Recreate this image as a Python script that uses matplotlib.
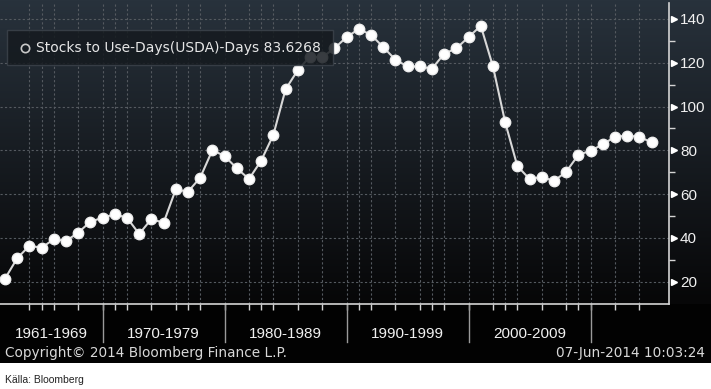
import numpy as np
import matplotlib
matplotlib.use("Agg")
import matplotlib.pyplot as plt
from matplotlib.transforms import blended_transform_factory
from matplotlib.patches import Rectangle
from matplotlib.lines import Line2D

# annual stocks-to-use (days), USDA
years = np.arange(1961, 2015)
stocks_days = [21.4, 30.7, 36.4, 35.5, 39.4, 38.6, 42.4, 47.4, 49.2, 50.8,
               49.2, 41.8, 48.6, 46.9, 62.2, 61.1, 67.5, 80.1, 77.4, 71.8,
               66.9, 75.3, 87.1, 107.9, 116.6, 122.8, 122.5, 126.6, 131.7, 135.4,
               132.8, 127.2, 121.4, 118.3, 118.3, 117.3, 124.1, 126.6, 131.7, 136.9,
               118.3, 92.8, 72.8, 66.9, 67.9, 66.0, 70.2, 77.9, 79.8, 82.7,
               86.2, 86.7, 86.2, 83.6268]
last_value = "83.6268"

decade_labels = ["1961-1969", "1970-1979", "1980-1989", "1990-1999", "2000-2009"]
decade_bounds = [1970, 1980, 1990, 2000, 2010]
tick_years = [1964, 1965, 1966, 1968, 1970, 1971, 1972, 1974, 1976, 1977, 1978,
              1980, 1982, 1983, 1984, 1986, 1988, 1990, 1991, 1992, 1994, 1996,
              1997, 1998, 2000, 2002, 2003, 2004, 2006, 2008, 2009, 2010, 2012, 2014]

AXFONT = ["Liberation Sans", "DejaVu Sans"]

W, H = 711, 389
fig = plt.figure(figsize=(W / 100, H / 100), dpi=100, facecolor="white")

# dark gradient background
bg = fig.add_axes([0, 1 - 363 / H, 1, 363 / H])
bg.set_axis_off()
rows = 363
top = np.array([40, 50, 60]) / 255
mid = np.array([7, 7, 8]) / 255
t = np.clip(np.arange(rows) / 300, 0, 1)[:, None]
grad = top * (1 - t) + mid * t
grad[304:] = np.array([2, 2, 2]) / 255
bg.imshow(grad[:, None, :], aspect="auto", extent=[0, 1, 0, 1])
bg.set_xlim(0, 1)
bg.set_ylim(0, 1)

ax = fig.add_axes([0, 1 - 304 / H, 669 / W, 301 / H])
ax.set_facecolor("none")
ax.set_xlim(1961.59, 2016.43)
ax.set_ylim(9.8, 147.3)

for s in ["left", "top"]:
    ax.spines[s].set_visible(False)
for s in ["right", "bottom"]:
    ax.spines[s].set_color("#d4d4d4")
    ax.spines[s].set_linewidth(1.2)

ax.yaxis.tick_right()
ax.set_yticks(range(20, 141, 20))
ax.set_yticks(range(30, 131, 20), minor=True)
ax.tick_params(axis="y", which="major", length=0, pad=8, labelsize=11,
               labelcolor="#f0f0f0")
ax.tick_params(axis="y", which="minor", length=4, width=1, color="#d4d4d4")
for lab in ax.get_yticklabels():
    lab.set_family(AXFONT)

ax.set_xticks(tick_years)
ax.set_xticklabels([])
ax.tick_params(axis="x", which="major", length=4, width=1, color="#d4d4d4")
ax.grid(True, which="major", color="#555a60", linestyle=(0, (2, 2)), linewidth=0.8)
ax.set_axisbelow(True)

# triangle markers at major y ticks
ty = blended_transform_factory(ax.transAxes, ax.transData)
ax.plot([1.007] * 7, range(20, 141, 20), linestyle="none", marker=">", ms=5,
        color="white", transform=ty, clip_on=False)

# decade separators and labels
tx = blended_transform_factory(ax.transData, ax.transAxes)
for b in decade_bounds:
    ax.plot([b, b], [0, -0.126], color="#9a9a9a", lw=1, transform=tx, clip_on=False)
left = ax.get_xlim()[0]
starts = [left] + decade_bounds[:-1]
for lab, a, b in zip(decade_labels, starts, decade_bounds):
    ax.text((a + b) / 2, -0.1, lab, transform=tx, ha="center", va="center",
            color="#f0f0f0", fontsize=11, family=AXFONT)

ax.plot(years + 1, stocks_days, color="#d8d8d8", lw=1.5, marker="o", ms=7.5,
        mfc="white", mec="#eeeeee", zorder=3)

# legend box
fig.patches.append(Rectangle((7 / W, 1 - 65 / H), 326 / W, 35 / H,
                             transform=fig.transFigure, facecolor="#151a1f",
                             edgecolor="#3c434b", lw=1, alpha=0.85, zorder=5))
fig.add_artist(Line2D([25 / W], [1 - 48 / H], transform=fig.transFigure,
                      marker="o", ms=6, mfc="none", mec="#c8c8c8", mew=1.2,
                      linestyle="none", zorder=6))
fig.text(36 / W, 1 - 48 / H, "Stocks to Use-Days(USDA)-Days " + last_value,
         color="#e6e6e6", fontsize=10, va="center", zorder=6)

fig.text(5 / W, 1 - 353 / H, "Copyright\u00a9 2014 Bloomberg Finance L.P.",
         color="#d8d8d8", fontsize=9.8, va="center")
fig.text(705 / W, 1 - 353 / H, "07-Jun-2014 10:03:24", color="#d8d8d8",
         fontsize=9.8, va="center", ha="right")
fig.text(5 / W, 1 - 380 / H, "K\u00e4lla: Bloomberg", color="#222222",
         fontsize=7.5, va="center", family=AXFONT)

fig.savefig("out.png", dpi=100, facecolor="white")
